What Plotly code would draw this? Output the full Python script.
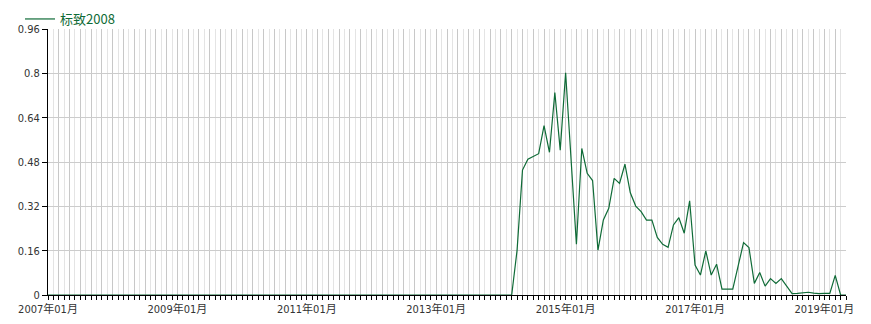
import plotly.graph_objects as go

# ---- data ----
years = list(range(2007, 2020))
months = [f"{y}年{m:02d}月" for y in years for m in range(1, 13)][:149]  # 2007年01月 .. 2019年05月

series_name = "标致2008"
values = [0.0] * 87 + [
    0.162, 0.451, 0.49, 0.50, 0.51, 0.611, 0.515, 0.731, 0.523, 0.802,
    0.49, 0.183, 0.529, 0.439, 0.413, 0.162, 0.271, 0.313, 0.421, 0.403,
    0.472, 0.369, 0.321, 0.301, 0.27, 0.27, 0.208, 0.183, 0.172, 0.253,
    0.279, 0.223, 0.34, 0.108, 0.072, 0.159, 0.072, 0.111, 0.021, 0.021,
    0.021, 0.105, 0.189, 0.171, 0.042, 0.081, 0.032, 0.059, 0.042, 0.059,
    0.033, 0.005, 0.006, 0.008, 0.01, 0.007, 0.005, 0.006, 0.006, 0.071,
    0.0, 0.0,
]
y_ticks = [0, 0.16, 0.32, 0.48, 0.64, 0.8, 0.96]
y_ticktext = ["0", "0.16", "0.32", "0.48", "0.64", "0.8", "0.96"]

LINE = "#0f6b37"
idx = list(range(len(months)))
even_idx = [i for i in idx if i % 2 == 0]
odd_idx = [i for i in idx if i % 2 == 1]
even_text = [months[i] if i % 24 == 0 else "" for i in even_idx]

fig = go.Figure()
fig.add_trace(go.Scatter(
    x=idx, y=values, mode="lines", name=series_name,
    line=dict(color=LINE, width=1.2),
    customdata=months, hovertemplate="%{customdata}: %{y}<extra></extra>",
))

font_stack = "DejaVu Sans Condensed, Noto Sans CJK SC, sans-serif"
fig.update_layout(
    width=871, height=324,
    margin=dict(l=48, r=25, t=29, b=29, autoexpand=False),
    plot_bgcolor="white", paper_bgcolor="white",
    font=dict(family=font_stack, size=11, color="#333"),
    showlegend=True,
    legend=dict(
        xref="container", yref="container", x=20 / 871, y=1 - 4 / 324,
        xanchor="left", yanchor="top", bgcolor="rgba(0,0,0,0)",
        font=dict(size=13, color=LINE, family="Noto Sans CJK SC, DejaVu Sans"),
        itemwidth=30,
    ),
    xaxis=dict(
        range=[0, len(months) - 1],
        tickmode="array", tickvals=even_idx, ticktext=even_text,
        showgrid=True, gridcolor="#c8c8c8", gridwidth=1,
        ticks="outside", ticklen=4, tickcolor="#000", tickwidth=1,
        showline=True, linecolor="#000", linewidth=1,
        zeroline=False,
        minor=dict(tickmode="array", tickvals=odd_idx, showgrid=True,
                   gridcolor="#e4e4e4", gridwidth=1,
                   ticks="outside", ticklen=4, tickcolor="#000"),
        tickfont=dict(size=11, color="#333"),
        tickangle=0,
    ),
    yaxis=dict(
        range=[0, 0.96],
        tickmode="array", tickvals=y_ticks, ticktext=y_ticktext,
        showgrid=True, gridcolor="#cccccc", gridwidth=1,
        ticks="outside", ticklen=5, tickcolor="#000",
        showline=True, linecolor="#000", linewidth=1,
        zeroline=False,
        tickfont=dict(size=11, color="#333"),
    ),
)

fig.write_html("out.html")
